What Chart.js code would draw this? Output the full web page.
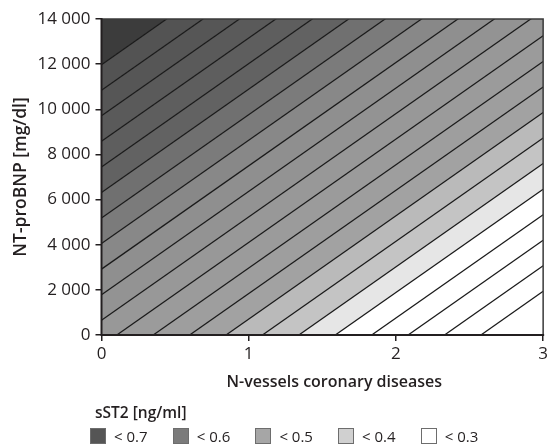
<!DOCTYPE html>
<html>
<head>
<meta charset="utf-8">
<script src="https://cdn.jsdelivr.net/npm/chart.js@4.4.1/dist/chart.umd.min.js"></script>
<style>
  html, body { margin: 0; padding: 0; background: #fff; }
  #wrap { position: relative; width: 551px; height: 447px; }
  #legend { position: absolute; left: 90px; top: 402px; font-family: "Open Sans", sans-serif; color: #231f20; }
  #legend .title { font-size: 15.5px; font-weight: 600; line-height: 20px; padding-left: 5px; }
  #legend .items { display: flex; margin-top: 5px; }
  #legend .item { display: flex; align-items: center; width: 82.7px; font-size: 15px; line-height: 18px; }
  #legend .box { width: 16px; height: 16px; border: 1px solid #6d6d6d; box-sizing: border-box; margin-right: 8px; }
</style>
</head>
<body>
<div id="wrap">
  <canvas id="chart" width="551" height="447"></canvas>
  <div id="legend"></div>
</div>
<script>
const xTicks = [0, 1, 2, 3];
const xTickLabels = ["0", "1", "2", "3"];
const yTicks = [0, 2000, 4000, 6000, 8000, 10000, 12000, 14000];
const yTickLabels = ["0", "2 000", "4 000", "6 000", "8 000", "10 000", "12 000", "14 000"];

// contour lines: NT-proBNP where each line meets N = 0, and their common slope per vessel
const lineIntercepts = [11975, 10843, 9711, 8579, 7447, 6315, 5183, 4051, 2919, 1787, 655,
  -477, -1609, -2741, -3873, -5005, -6137, -7269, -8401, -9533, -10665, -11797];
const lineSlope = 4577;

// shade of the band lying just above each contour line
const bandColors = ["#3c3c3c", "#535353", "#565656", "#5a5a5a", "#5e5e5e", "#626262",
  "#707070", "#7b7b7b", "#888888", "#8f8f8f", "#939393", "#989898", "#9b9b9b", "#9e9e9e",
  "#a2a2a2", "#bababa", "#c4c4c4", "#e6e6e6", "#ffffff", "#ffffff", "#ffffff", "#ffffff"];

const legendLabels = ["< 0.7", "< 0.6", "< 0.5", "< 0.4", "< 0.3"];
const legendColors = ["#555555", "#7b7b7b", "#a6a6a6", "#d0d0d0", "#ffffff"];

const datasets = lineIntercepts.map((b, i) => ({
  data: [{ x: xTicks[0], y: b }, { x: xTicks[xTicks.length - 1], y: b + lineSlope * xTicks[xTicks.length - 1] }],
  borderColor: "#1a1a1a",
  borderWidth: 1.25,
  backgroundColor: bandColors[i],
  fill: i === 0 ? "end" : "-1",
  pointRadius: 0,
  tension: 0,
}));

// plot frame drawn over the fills: dark axes on left/bottom, lighter edge top/right
const framePlugin = {
  id: "frame",
  afterDatasetsDraw(chart) {
    const { ctx, chartArea: a } = chart;
    ctx.save();
    ctx.lineWidth = 1.5;
    ctx.strokeStyle = "#3a3a3a";
    ctx.beginPath();
    ctx.moveTo(a.left, a.top);
    ctx.lineTo(a.right, a.top);
    ctx.lineTo(a.right, a.bottom);
    ctx.stroke();
    ctx.lineWidth = 2;
    ctx.strokeStyle = "#231f20";
    ctx.beginPath();
    ctx.moveTo(a.left, a.top - 1);
    ctx.lineTo(a.left, a.bottom);
    ctx.lineTo(a.right + 1, a.bottom);
    ctx.stroke();
    ctx.restore();
  },
};

const tickFont = { family: "'Open Sans', sans-serif", size: 17 };
const yTitleFont = { family: "'Open Sans', sans-serif", size: 17.5, weight: "600" };
const xTitleFont = { family: "'Open Sans', sans-serif", size: 16, weight: "600" };

new Chart(document.getElementById("chart"), {
  type: "line",
  data: { datasets },
  options: {
    responsive: false,
    animation: false,
    events: [],
    layout: { padding: { top: 19, right: 6, bottom: 55, left: 0 } },
    plugins: {
      legend: { display: false },
      tooltip: { enabled: false },
      filler: { drawTime: "beforeDatasetsDraw" },
    },
    scales: {
      x: {
        type: "linear",
        min: 0,
        max: 3,
        afterBuildTicks: (s) => { s.ticks = xTicks.map((v) => ({ value: v })); },
        afterFit: (s) => { s.height = 57; },
        ticks: { font: tickFont, color: "#231f20", padding: 3, callback: (v, i) => xTickLabels[i] },
        grid: { drawOnChartArea: false, tickLength: 6, color: "#231f20", lineWidth: 1.5 },
        border: { display: false },
        title: { display: true, text: "\u2003\u2002N-vessels coronary diseases", font: xTitleFont, color: "#231f20", padding: 0 },
      },
      y: {
        min: 0,
        max: 14000,
        afterBuildTicks: (s) => { s.ticks = yTicks.map((v) => ({ value: v })); },
        afterFit: (s) => { s.width = 101.5; },
        ticks: { font: tickFont, color: "#231f20", padding: 5, callback: (v, i) => yTickLabels[i] },
        grid: { drawOnChartArea: false, tickLength: 6, color: "#231f20", lineWidth: 1.5 },
        border: { display: false },
        title: { display: true, text: "NT-proBNP [mg/dl]", font: yTitleFont, color: "#231f20", padding: { top: 11, bottom: 0 } },
      },
    },
  },
  plugins: [framePlugin],
});

const legend = document.getElementById("legend");
legend.innerHTML = '<div class="title">sST2 [ng/ml]</div><div class="items">' +
  legendLabels.map((t, i) =>
    '<div class="item"><span class="box" style="background:' + legendColors[i] + '"></span>' + t + '</div>'
  ).join("") + "</div>";
</script>
</body>
</html>
